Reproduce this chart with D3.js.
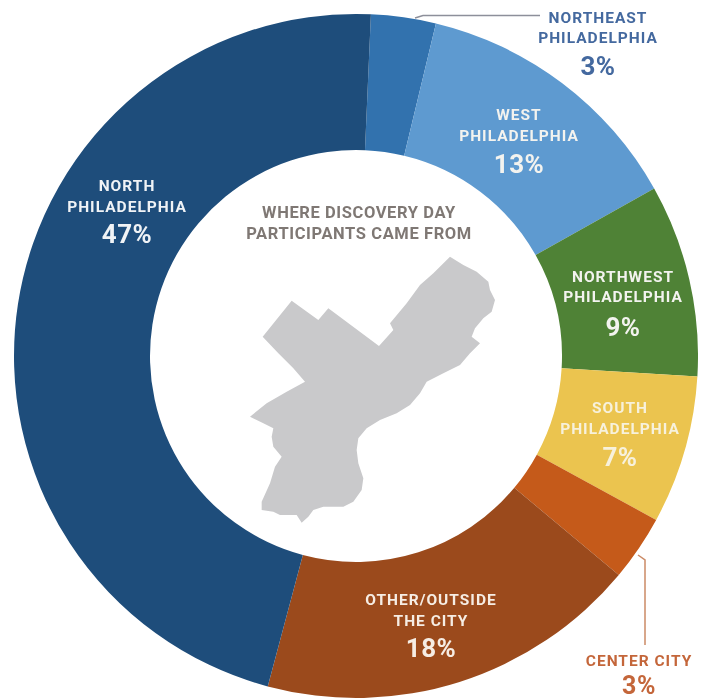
<!DOCTYPE html>
<html><head><meta charset="utf-8">
<script src="https://cdn.jsdelivr.net/npm/d3@7"></script>
<style>html,body{margin:0;padding:0;background:#fff}svg{display:block;filter:blur(0.4px)}text{font-family:Roboto,sans-serif;font-weight:700}</style>
</head><body><div id="chart"></div>
<script>
const categories=["Northeast Philadelphia","West Philadelphia","Northwest Philadelphia","South Philadelphia","Center City","Other/Outside the City","North Philadelphia"];
const labelLines=[["NORTHEAST","PHILADELPHIA"],["WEST","PHILADELPHIA"],["NORTHWEST","PHILADELPHIA"],["SOUTH","PHILADELPHIA"],["CENTER CITY"],["OTHER/OUTSIDE","THE CITY"],["NORTH","PHILADELPHIA"]];
const percentLabels=["3%","13%","9%","7%","3%","18%","47%"];
const sliceShares=[3.06,13.1,9.1,7.0,3.1,18.1,46.54];
const sliceColors=["#3272ae","#5e9ad0","#4f8236","#ebc44f","#c55a1a","#9b4a1c","#1e4d7b"];
const labelColors=["#44699f","#f3f3ef","#f3f3ef","#f7f1dc","#c4663a","#f6ede4","#f0f3f6"];
const labelX=[598,519,623,620,639,431,127];
const labelY=[[23,43,75],[120,141,173],[282,302,336],[413,434,466],[666,693.5],[605,626,657],[190.5,212,243]];
const titleLines=["WHERE DISCOVERY DAY","PARTICIPANTS CAME FROM"];
const mapOutline=[[660,50],[700,75],[740,95],[775,125],[780,150],[795,180],[785,215],[760,235],[735,265],[725,290],[750,310],[720,340],[690,375],[640,400],[590,425],[570,460],[540,495],[500,520],[450,540],[410,565],[385,595],[380,630],[385,670],[400,715],[395,750],[370,785],[340,800],[280,800],[250,810],[235,830],[215,848],[200,825],[150,825],[130,815],[95,810],[95,785],[120,730],[135,680],[155,650],[130,620],[125,590],[130,565],[100,550],[60,530],[110,490],[170,455],[225,425],[190,385],[145,340],[98,290],[185,182],[265,240],[295,205],[447,318],[490,270],[480,250],[530,190],[570,135],[610,100]];
const leaderNE=[[540,15.5],[423,15.5],[415,18]];
const leaderCC=[[645,645],[645,560],[638,555]];

const W=707,H=700,cx=356,cy=356,R=342,r=206;
const svg=d3.select("#chart").append("svg").attr("width",W).attr("height",H).attr("viewBox",[0,0,W,H]);
const pie=d3.pie().sort(null).startAngle(2.5*Math.PI/180).endAngle(362.5*Math.PI/180).value(d=>d);
const arc=d3.arc().innerRadius(r).outerRadius(R);
svg.append("g").attr("transform",`translate(${cx},${cy})`)
  .selectAll("path").data(pie(sliceShares)).join("path")
  .attr("d",arc).attr("fill",(d,i)=>sliceColors[i]);

const mx=d3.scaleLinear().domain([0,840]).range([230,510]);
const my=d3.scaleLinear().domain([0,870]).range([240,530]);
svg.append("path").attr("d",d3.line().x(d=>mx(d[0])).y(d=>my(d[1])).curve(d3.curveLinearClosed)(mapOutline)).attr("fill","#c9c9cb");

const line=d3.line();
svg.append("path").attr("d",line(leaderNE)).attr("fill","none").attr("stroke","#8d8f9a").attr("stroke-width",1.5);
svg.append("path").attr("d",line(leaderCC)).attr("fill","none").attr("stroke","#cb8a66").attr("stroke-width",1.5);

const labels=svg.append("g").attr("text-anchor","middle").selectAll("g").data(categories).join("g").attr("fill",(d,i)=>labelColors[i]);
labels.each(function(d,i){
  const g=d3.select(this);
  labelLines[i].forEach((t,j)=>g.append("text").attr("x",labelX[i]).attr("y",labelY[i][j]).attr("font-size",15.5).attr("letter-spacing",1).text(t));
  g.append("text").attr("x",labelX[i]).attr("y",labelY[i][labelLines[i].length]).attr("font-size",i===4?25:26).attr("letter-spacing",0.5).text(percentLabels[i]);
});
svg.append("g").attr("text-anchor","middle").attr("fill","#7f7874").selectAll("text").data(titleLines).join("text")
  .attr("x",359).attr("y",(d,i)=>218+21*i).attr("font-size",16.5).attr("letter-spacing",0.6).text(d=>d);
</script></body></html>
